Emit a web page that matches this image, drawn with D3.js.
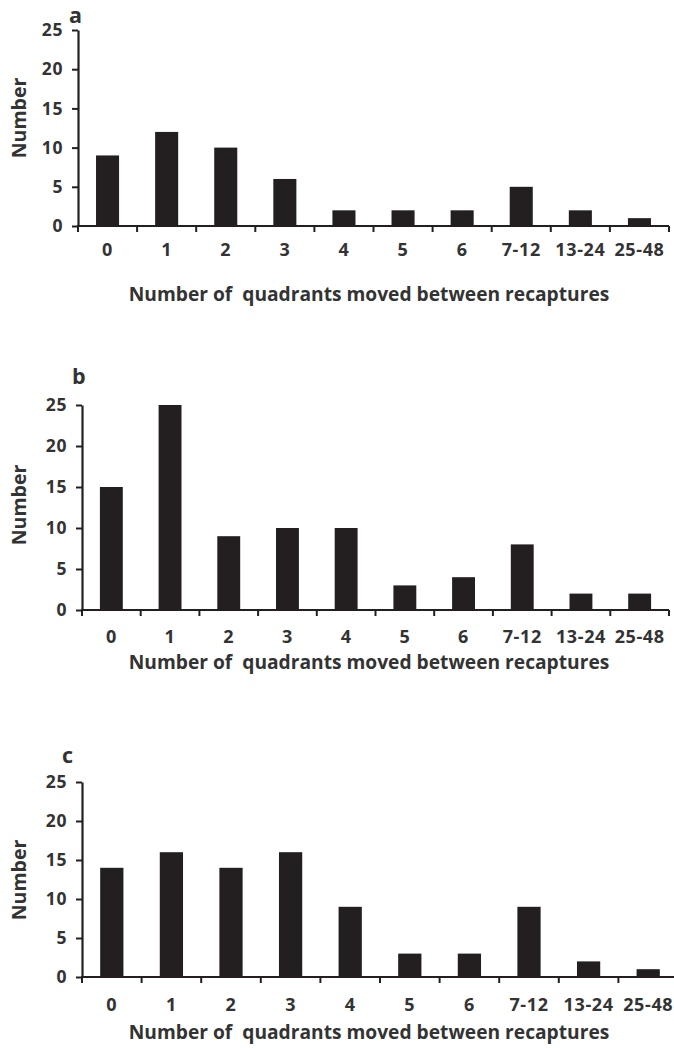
<!DOCTYPE html>
<html><head><meta charset="utf-8">
<script src="https://cdn.jsdelivr.net/npm/d3@7"></script>
<style>body{margin:0;background:#fff}svg{display:block}</style>
</head><body>
<svg id="c" width="674" height="1048"></svg>
<script>
const categories = ["0","1","2","3","4","5","6","7-12","13-24","25-48"];
const valuesA = [9,12,10,6,2,2,2,5,2,1];
const valuesB = [15,25,9,10,10,3,4,8,2,2];
const valuesC = [14,16,14,16,9,3,3,9,2,1];
const yTicks = [0,5,10,15,20,25];
const panelLabels = ["a","b","c"];
const xTitle = "Number of  quadrants moved between recaptures";
const yTitle = "Number";

const ink = "#231f20", txt = "#333333";
const font = "'Open Sans', sans-serif";
const svg = d3.select("#c");

const panels = [
  {vals: valuesA, x0: 78, x1: 669, y0: 226, y1: 30, tickY: 256, titleY: 301, lab: [69, 23], yTitleY: 118},
  {vals: valuesB, x0: 82, x1: 669, y0: 610, y1: 405, tickY: 643, titleY: 669, lab: [72, 384], yTitleY: 505},
  {vals: valuesC, x0: 82, x1: 678, y0: 977, y1: 782, tickY: 1011, titleY: 1039, lab: [62, 763], yTitleY: 880}
];

panels.forEach((p, i) => {
  const g = svg.append("g");
  const x = d3.scaleBand().domain(categories).range([p.x0, p.x1]).paddingInner(0).paddingOuter(0);
  const y = d3.scaleLinear().domain([0, 25]).range([p.y0, p.y1]);
  const bw = x.bandwidth() * 0.39;

  g.selectAll("rect").data(p.vals).join("rect")
    .attr("x", (d, j) => x(categories[j]) + (x.bandwidth() - bw) / 2)
    .attr("y", d => y(d))
    .attr("width", bw)
    .attr("height", d => y(0) - y(d))
    .attr("fill", ink);

  // y axis
  const ya = g.append("g").attr("transform", `translate(${p.x0},0)`)
    .call(d3.axisLeft(y).tickValues(yTicks).tickSize(6).tickSizeOuter(0).tickPadding(9));
  ya.select(".domain").attr("stroke", ink).attr("stroke-width", 2.2);
  ya.selectAll(".tick line").attr("stroke", ink).attr("stroke-width", 2);
  ya.selectAll(".tick text").attr("fill", txt).attr("font-family", font)
    .attr("font-size", 17.5).attr("font-weight", 700).attr("letter-spacing", 0.6);

  // x axis line and ticks at band boundaries
  g.append("line").attr("x1", p.x0 - 1).attr("x2", p.x1).attr("y1", y(0)).attr("y2", y(0))
    .attr("stroke", ink).attr("stroke-width", 2.2);
  const bounds = categories.map(c => x(c)).concat([x(categories[categories.length - 1]) + x.bandwidth()]);
  g.selectAll("line.xt").data(bounds).join("line").attr("class", "xt")
    .attr("x1", d => d).attr("x2", d => d).attr("y1", y(0)).attr("y2", y(0) + 6)
    .attr("stroke", ink).attr("stroke-width", 2);
  g.selectAll("text.xl").data(categories).join("text").attr("class", "xl")
    .attr("x", d => x(d) + x.bandwidth() / 2).attr("y", p.tickY)
    .attr("text-anchor", "middle").attr("fill", txt).attr("font-family", font)
    .attr("font-size", 18).attr("font-weight", 700).attr("letter-spacing", 0.6).text(d => d);

  g.append("text").attr("x", 369).attr("y", p.titleY).attr("text-anchor", "middle")
    .attr("fill", txt).attr("font-family", font).attr("font-size", 19.2).attr("font-weight", 700)
    .attr("xml:space", "preserve").style("white-space", "pre").text(xTitle);

  g.append("text").attr("transform", `translate(26,${p.yTitleY}) rotate(-90)`)
    .attr("text-anchor", "middle").attr("fill", txt).attr("font-family", font)
    .attr("font-size", 19.5).attr("font-weight", 700).text(yTitle);

  g.append("text").attr("x", p.lab[0]).attr("y", p.lab[1]).attr("fill", txt)
    .attr("font-family", font).attr("font-size", 21.5).attr("font-weight", 700).text(panelLabels[i]);
});
</script>
</body></html>
